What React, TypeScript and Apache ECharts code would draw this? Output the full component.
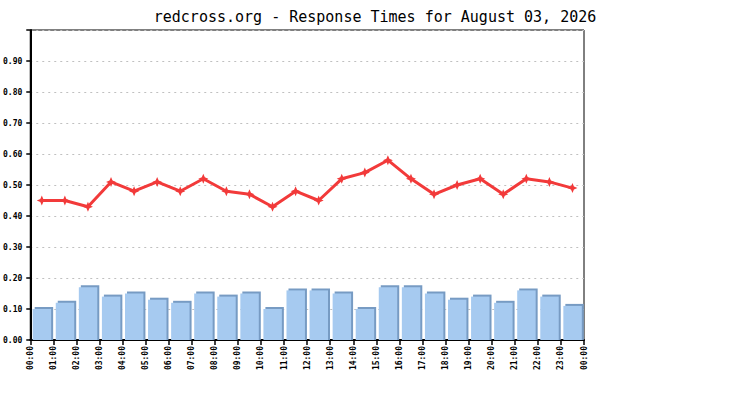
import React, { useEffect, useRef } from "react";
import * as echarts from "echarts";

const hourLabels = [
  "00:00", "01:00", "02:00", "03:00", "04:00", "05:00", "06:00", "07:00",
  "08:00", "09:00", "10:00", "11:00", "12:00", "13:00", "14:00", "15:00",
  "16:00", "17:00", "18:00", "19:00", "20:00", "21:00", "22:00", "23:00", "00:00",
];
const barValues = [
  0.10, 0.12, 0.17, 0.14, 0.15, 0.13, 0.12, 0.15, 0.14, 0.15, 0.10, 0.16,
  0.16, 0.15, 0.10, 0.17, 0.17, 0.15, 0.13, 0.14, 0.12, 0.16, 0.14, 0.11,
];
const lineValues = [
  0.45, 0.45, 0.43, 0.51, 0.48, 0.51, 0.48, 0.52, 0.48, 0.47, 0.43, 0.48,
  0.45, 0.52, 0.54, 0.58, 0.52, 0.47, 0.50, 0.52, 0.47, 0.52, 0.51, 0.49,
];
const titleText = "redcross.org - Response Times for August 03, 2026";

const FONT = "DejaVu Sans Mono";

export default function App() {
  const ref = useRef<HTMLDivElement>(null);
  useEffect(() => {
    document.body.style.margin = "0";
    const chart = echarts.init(ref.current!, null, { renderer: "svg" });
    const barData = barValues.map((v, i) => [i + 0.5, v]);
    const lineData = lineValues.map((v, i) => [i + 0.5, v]);
    chart.setOption({
      animation: false,
      backgroundColor: "#ffffff",
      title: {
        text: titleText,
        left: "center",
        top: 4,
        textStyle: { fontFamily: FONT, fontSize: 15, fontWeight: "normal", color: "#000" },
      },
      grid: {
        left: 30,
        right: 166,
        top: 30,
        bottom: 60,
        show: true,
        borderColor: "#000",
        borderWidth: 1,
        backgroundColor: "transparent",
      },
      xAxis: {
        type: "value",
        min: 0,
        max: 24,
        interval: 1,
        axisLine: { show: true, onZero: false, lineStyle: { color: "#000", width: 2 } },
        axisTick: { show: true, length: 5, lineStyle: { color: "#000", width: 1.5 } },
        splitLine: { show: false },
        axisLabel: {
          rotate: 90,
          margin: 6,
          fontFamily: FONT,
          fontSize: 8,
          fontWeight: "bold",
          color: "#000",
          formatter: (v: number) => hourLabels[Math.round(v)] ?? "",
        },
      },
      yAxis: {
        type: "value",
        min: 0,
        max: 1,
        interval: 0.1,
        axisLine: { show: true, lineStyle: { color: "#000", width: 2 } },
        axisTick: { show: true, length: 4, lineStyle: { color: "#000", width: 1.5 } },
        splitLine: { show: true, lineStyle: { color: "#c0c0c0", type: [2, 4], width: 1 } },
        axisLabel: {
          margin: 8,
          fontFamily: FONT,
          fontSize: 8,
          fontWeight: "bold",
          color: "#000",
          formatter: (v: number) => (v >= 0.999 ? "" : v.toFixed(2)),
        },
      },
      series: [
        {
          type: "custom",
          data: barData,
          z: 2,
          renderItem: (params: any, api: any) => {
            const x = api.value(0);
            const v = api.value(1);
            const unit = api.size([1, 0])[0];
            const base = api.coord([x - 0.5, 0]);
            const top = api.coord([x, v]);
            const fx = base[0] + unit * 0.105;
            const fw = unit * 0.8;
            const h = base[1] - top[1];
            return {
              type: "group",
              children: [
                {
                  type: "rect",
                  shape: { x: fx + 2, y: top[1] - 2, width: fw, height: h + 2 },
                  style: { fill: "#779bc3" },
                },
                {
                  type: "rect",
                  shape: { x: fx, y: top[1], width: fw, height: h },
                  style: { fill: "#a6caf0" },
                },
              ],
            };
          },
        },
        {
          type: "line",
          data: lineData,
          z: 5,
          symbol: "path://M5,0 L6.5,3.5 L10,5 L6.5,6.5 L5,10 L3.5,6.5 L0,5 L3.5,3.5 Z",
          symbolSize: 10,
          itemStyle: { color: "#f23a3a" },
          lineStyle: { color: "#f23a3a", width: 3 },
        },
      ],
    });
    return () => chart.dispose();
  }, []);
  return <div ref={ref} style={{ width: 750, height: 400 }} />;
}
